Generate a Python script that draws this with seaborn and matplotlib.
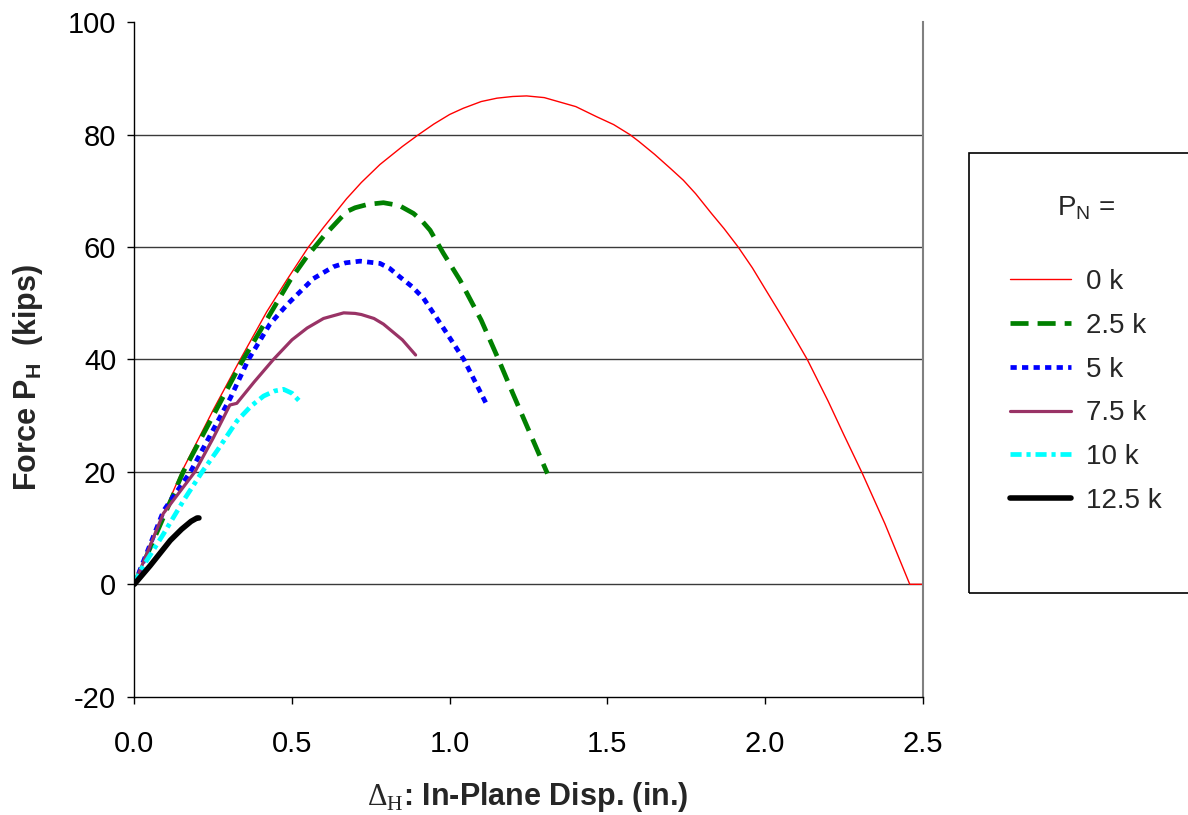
import numpy as np
import pandas as pd
import matplotlib
matplotlib.use("Agg")
import matplotlib.pyplot as plt
from matplotlib.patches import Rectangle
import seaborn as sns

# ---------------- data ----------------
x_0k = [0, 0.075, 0.150, 0.25, 0.336, 0.42, 0.483, 0.552, 0.6, 0.673, 0.72, 0.779, 0.85,
        0.901, 0.95, 1.0, 1.043, 1.1, 1.15, 1.2, 1.244, 1.3, 1.35, 1.4, 1.466, 1.52, 1.572,
        1.6, 1.65, 1.7, 1.741, 1.78, 1.83, 1.87, 1.915, 1.96, 2.0, 2.05, 2.100, 2.134, 2.2,
        2.25, 2.308, 2.38, 2.459, 2.5]
y_0k = [0, 10.3, 20, 31, 40, 48.5, 54.1, 60, 63.5, 68.6, 71.5, 74.7, 77.9,
        80, 81.9, 83.6, 84.7, 85.9, 86.5, 86.8, 86.9, 86.6, 85.8, 85, 83.2, 81.8, 80,
        78.8, 76.5, 74, 71.9, 69.5, 66, 63.3, 60, 56.3, 52.6, 48.0, 43.3, 40, 32.6,
        26.6, 19.8, 10.8, 0, 0]

x_25k = [0, 0.155, 0.34, 0.494, 0.547, 0.6, 0.673, 0.7, 0.74, 0.79, 0.84, 0.885, 0.91,
         0.938, 0.98, 1.033, 1.1, 1.155, 1.2, 1.25, 1.31]
y_25k = [0, 20, 39.5, 54.1, 58.3, 61.9, 66.3, 67, 67.6, 67.9, 67.4, 66, 64.8,
         63, 58.9, 54.1, 47, 40, 34, 27.5, 19.7]

x_5k = [0, 0.093, 0.178, 0.305, 0.362, 0.43, 0.485, 0.568, 0.631, 0.67, 0.716, 0.779,
        0.81, 0.842, 0.88, 0.917, 0.98, 1.045, 1.12]
y_5k = [0, 13.1, 20, 33.2, 40, 46.3, 49.8, 54.4, 56.5, 57.2, 57.5, 57.1,
        56.2, 54.7, 53, 50.9, 45.6, 40, 31.7]

x_75k = [0, 0.092, 0.192, 0.25, 0.303, 0.325, 0.38, 0.441, 0.5, 0.548, 0.6, 0.664, 0.7,
         0.72, 0.76, 0.79, 0.85, 0.892]
y_75k = [0, 12.6, 20, 26, 31.9, 32.2, 36, 40, 43.5, 45.6, 47.3, 48.3, 48.2,
         48, 47.3, 46.3, 43.5, 40.8]

x_10k = [0, 0.02, 0.093, 0.156, 0.215, 0.263, 0.326, 0.37, 0.41, 0.445, 0.473, 0.5, 0.532]
y_10k = [0, 2.5, 9, 14.9, 20, 23.8, 29.1, 31.7, 33.5, 34.4, 34.7, 34, 32.1]

x_125k = [0, 0.05, 0.114, 0.15, 0.18, 0.199, 0.205]
y_125k = [0, 3.3, 7.8, 9.8, 11.2, 11.8, 11.8]

series_labels = ["0 k", "2.5 k", "5 k", "7.5 k", "10 k", "12.5 k"]
x_ticks = [0.0, 0.5, 1.0, 1.5, 2.0, 2.5]
y_ticks = [-20, 0, 20, 40, 60, 80, 100]

# ---------------- style ----------------
sns.set_style("white")
plt.rcParams["font.family"] = ["Liberation Sans", "DejaVu Sans"]
plt.rcParams["mathtext.fontset"] = "custom"
plt.rcParams["mathtext.rm"] = "Liberation Serif"
plt.rcParams["mathtext.sf"] = "Liberation Sans"
plt.rcParams["mathtext.bf"] = "Liberation Sans:bold"
plt.rcParams["lines.scale_dashes"] = False

fig = plt.figure(figsize=(11.88, 8.15), dpi=100)
L, R, T, B = 134.3, 922.7, 22.3, 696.7
ax = fig.add_axes([L / 1188, 1 - B / 815, (R - L) / 1188, (B - T) / 815])

xs = [x_0k, x_25k, x_5k, x_75k, x_10k, x_125k]
ys = [y_0k, y_25k, y_5k, y_75k, y_10k, y_125k]
styles = [
    dict(color="#FF0000", lw=1.0, linestyle="-"),
    dict(color="#008000", lw=3.4, linestyle=(0, (13, 6.5))),
    dict(color="#0000FF", lw=3.4, linestyle=(0, (4.5, 3.8))),
    dict(color="#993366", lw=2.3, linestyle="-"),
    dict(color="#00FFFF", lw=3.4, linestyle=(0, (8, 3.5, 3, 3.5))),
    dict(color="#000000", lw=4.0, linestyle="-", solid_capstyle="round"),
]

for xv, yv, lab, st in zip(xs, ys, series_labels, styles):
    df = pd.DataFrame({"x": xv, "y": yv})
    sns.lineplot(data=df, x="x", y="y", ax=ax, sort=False, estimator=None,
                 label=lab, **st)

ax.set_xlim(0, 2.5)
ax.set_ylim(-20, 100)
ax.set_xticks(x_ticks)
ax.set_xticklabels([f"{v:.1f}" for v in x_ticks])
ax.set_yticks(y_ticks)
ax.set_yticklabels([str(v) for v in y_ticks])
ax.tick_params(axis="both", labelsize=21, direction="out", length=5, width=1, colors="black")
ax.tick_params(axis="x", pad=19, bottom=True)
ax.tick_params(axis="y", pad=8, left=True)

# horizontal gridlines
for gy in [0, 20, 40, 60, 80]:
    ax.axhline(gy, color="#3a3a3a", lw=1.0, zorder=0)

for s in ["left", "bottom"]:
    ax.spines[s].set_color("black")
    ax.spines[s].set_linewidth(1.0)
ax.spines["top"].set_visible(False)
ax.spines["right"].set_color("#808080")
ax.spines["right"].set_linewidth(1.5)

ax.set_xlabel(r"$\Delta_{\mathrm{H}}$: In-Plane Disp. (in.)", fontsize=22, fontweight="bold")
ax.set_ylabel(r"Force $\mathbf{P}_{\mathbf{H}}$  (kips)", fontsize=22, fontweight="bold")
ax.xaxis.set_label_coords((528 - L) / (R - L), -(780 - B) / (B - T))
ax.yaxis.set_label_coords(-(L - 45) / (R - L), (B - 377) / (B - T))

# legend
handles, labels = ax.get_legend_handles_labels()
if ax.get_legend():
    ax.get_legend().remove()
fig.patches.append(Rectangle((969 / 1188, 1 - 593 / 815), 240 / 1188, 440 / 815,
                             transform=fig.transFigure, fill=False, edgecolor="black",
                             lw=1.2, clip_on=False))
leg = fig.legend(handles, labels, title=r"$\mathsf{P}_{\mathsf{N}}$ =",
                 loc="upper left", bbox_to_anchor=(1010 / 1188, 1 - 194 / 815),
                 bbox_transform=fig.transFigure, frameon=False, fontsize=20,
                 title_fontsize=20, handlelength=2.2, handletextpad=0.55,
                 labelspacing=0.64, borderaxespad=0, borderpad=0)
leg._legend_box.sep = 34

fig.savefig("out.png", dpi=100)
